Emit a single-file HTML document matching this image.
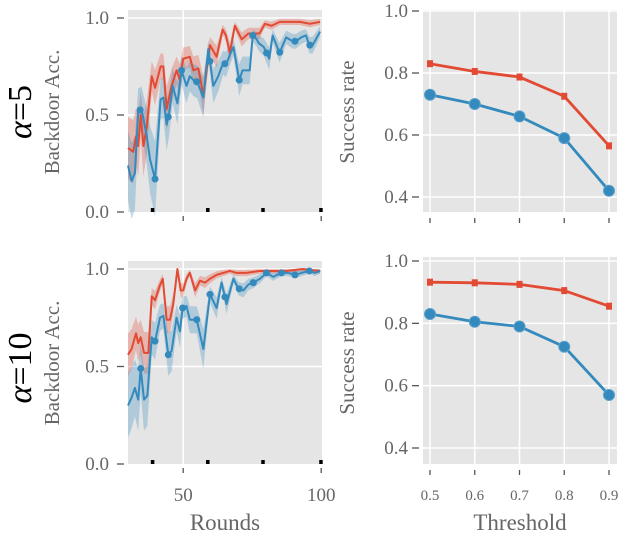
<!DOCTYPE html>
<html><head><meta charset="utf-8"><style>
body{margin:0;background:#fff}
svg{display:block}
text{font-family:"Liberation Serif",serif}
</style></head><body>
<svg id="c" width="622" height="534"></svg>
<script>
// Round-based series (left panels)
const rTopRed=[30,31.9,32.9,33.7,34.6,35.6,36.8,38.6,39.8,41.8,42.8,44,45.8,47.6,48.8,50,52.4,53.7,55.5,57.3,59.7,62.1,64.3,65.5,66.9,68.7,71.2,73.6,75.4,77.6,79.6,82,85,88.7,92.3,95.9,99.6];
const vTopRed=[0.33,0.31,0.39,0.34,0.5,0.34,0.44,0.70,0.64,0.75,0.75,0.53,0.65,0.73,0.68,0.79,0.80,0.73,0.74,0.60,0.86,0.80,0.94,0.91,0.82,0.96,0.89,0.92,0.92,0.92,0.97,0.96,0.98,0.98,0.98,0.97,0.98];
const rTopBlue=[30,31.3,32.5,33.7,34.9,36.8,38,39.8,41.8,42.8,44,44.9,46.2,47.9,49.4,51.2,52.4,53.7,55.1,57.3,59.1,60.9,62.7,64.5,65.5,66.9,68.2,70.3,71.5,72.9,74.1,75.2,76.6,77.4,79.2,81.2,82.4,84.9,87.3,89.7,90.9,92.7,94.5,95.7,96.9,99.6];
const vTopBlue=[0.24,0.16,0.20,0.52,0.53,0.39,0.27,0.17,0.58,0.59,0.45,0.51,0.65,0.56,0.73,0.65,0.70,0.68,0.67,0.59,0.84,0.65,0.70,0.77,0.76,0.81,0.85,0.68,0.73,0.73,0.73,0.91,0.89,0.87,0.85,0.79,0.91,0.82,0.90,0.88,0.88,0.90,0.91,0.86,0.86,0.93];
const mTopBlue=[34.4,39.8,44.6,49.4,54.9,59.7,65.1,70.3,75.2,80.2,85,90.5,95.9];
const rBotRed=[30,31.3,32.9,33.7,34.6,35.8,37.4,38.6,39.8,41.4,42.6,44,45.2,46.4,47.9,49.1,50,51.2,52.4,54.3,56.1,57.9,59.7,62.1,64.5,66.9,69.3,72.9,77.6,81.2,87.3,93.3,99.6];
const vBotRed=[0.56,0.59,0.67,0.62,0.65,0.57,0.57,0.86,0.84,0.91,0.95,0.74,0.74,0.82,1.0,0.89,0.89,0.95,0.98,0.89,0.94,0.93,0.95,0.97,0.98,0.99,0.98,0.98,0.99,0.99,0.99,1.0,0.99];
const rBotBlue=[30,31.3,32.5,33.7,34.6,35.8,37,38.6,39.8,41.6,42.8,44.6,45.8,47.6,48.8,49.8,51.2,52.4,54.9,57.3,59.7,62.1,63.9,65.7,68.2,70,71.8,73.6,75.4,77.8,80.2,82.6,85.6,88,90.5,92.9,95.7,97.7,99.6];
const vBotBlue=[0.30,0.34,0.39,0.33,0.49,0.33,0.35,0.65,0.63,0.75,0.76,0.56,0.58,0.75,0.68,0.80,0.81,0.74,0.74,0.59,0.87,0.80,0.93,0.82,0.95,0.90,0.89,0.92,0.93,0.95,0.98,0.96,0.98,0.98,0.97,0.98,0.99,0.98,0.99];
const mBotBlue=[34.6,39.8,44.6,49.8,54.9,59.7,65.1,70.3,75.4,80.2,85.6,90.5,95.7];
// Threshold series (right panels)
const thresholds=[0.5,0.6,0.7,0.8,0.9];
const sTopRed=[0.83,0.805,0.787,0.725,0.565];
const sTopBlue=[0.73,0.70,0.66,0.59,0.42];
const sBotRed=[0.932,0.93,0.925,0.905,0.855];
const sBotBlue=[0.83,0.805,0.79,0.725,0.57];
const yTicksL=["0.0","0.5","1.0"], yTicksR=["0.4","0.6","0.8","1.0"], xTicksL=["50","100"], xTicksR=["0.5","0.6","0.7","0.8","0.9"];

const RED="#E24A33",BLUE="#348ABD",NS="http://www.w3.org/2000/svg";
const svg=document.getElementById('c');
function el(t,a,p){const e=document.createElementNS(NS,t);for(const k in a)e.setAttribute(k,a[k]);(p||svg).appendChild(e);return e;}
function txt(s,a,p){const e=el('text',a,p);e.textContent=s;return e;}

function leftPanel(top,bot,y1,rR,vR,rB,vB,mB,name,showX){
  const g=el('g',{});
  
  
  const X=r=>128+(r-30)*2.76, Y=v=>bot-(v*(bot-y1));
  el('rect',{x:128,y:top,width:194,height:bot-top,fill:'#E5E5E5'},g);
  el('line',{x1:X(50),x2:X(50),y1:top,y2:bot,stroke:'#fff','stroke-width':1.5},g);
  [0.5,1].forEach(v=>el('line',{x1:128,x2:322,y1:Y(v),y2:Y(v),stroke:'#fff','stroke-width':1.5},g));
  [[rR,vR,RED],[rB,vB,BLUE]].forEach(([rs,vs,c],si)=>{
    let up=[],dn=[];
    rs.forEach((r,i)=>{const e=0.22*(1-vs[i])+0.012;up.push(X(r)+','+Y(Math.min(1.0,vs[i]+e)));dn.unshift(X(r)+','+Y(vs[i]-e));});
    const b=el('polygon',{points:up.concat(dn).join(' '),fill:c,opacity:0.3},g);
    
    
  });
  [[rR,vR,RED],[rB,vB,BLUE]].forEach(([rs,vs,c],si)=>{
    const l=el('polyline',{points:rs.map((r,i)=>X(r)+','+Y(vs[i])).join(' '),fill:'none',stroke:c,'stroke-width':2,'stroke-linejoin':'round'},g);
    
    
  });
  mB.forEach(m=>{let i=0;while(i<rB.length-1&&rB[i+1]<m)i++;const t=(m-rB[i])/((rB[i+1]-rB[i])||1);const v=vB[i]+(vB[Math.min(i+1,vB.length-1)]-vB[i])*Math.max(0,Math.min(1,t));
    const c=el('circle',{cx:X(m),cy:Y(v),r:3.5,fill:BLUE},g);
    
    });
  [39,59,79,100].forEach(r=>el('rect',{x:X(r)-2,y:bot-4,width:3.5,height:4,fill:'#000'},g));
  yTicksL.forEach(s=>{const v=parseFloat(s);el('line',{x1:117,x2:124,y1:Y(v),y2:Y(v),stroke:'#555','stroke-width':1.3},g);
    const t=txt(s,{x:109,y:Y(v)+6,'text-anchor':'end','font-size':19,fill:'#666'},g);
    });
  xTicksL.forEach(s=>{const x=X(parseFloat(s));el('line',{x1:x,x2:x,y1:bot+4,y2:bot+9,stroke:'#555','stroke-width':1.3},g);
    if(showX){const t=txt(s,{x:x,y:bot+37,'text-anchor':'middle','font-size':19,fill:'#666'},g);
    }});
}
function rightPanel(top,bot,y1,y4,sR,sB,name,showX){
  const g=el('g',{});
  
  
  const X=t=>430+(t-0.5)*447.5, Y=v=>y4+(v-0.4)/0.6*(y1-y4);
  el('rect',{x:423,y:top,width:194,height:bot-top,fill:'#E5E5E5'},g);
  thresholds.forEach(t=>el('line',{x1:X(t),x2:X(t),y1:top,y2:bot,stroke:'#fff','stroke-width':1.5},g));
  yTicksR.forEach(s=>{const v=parseFloat(s);el('line',{x1:423,x2:617,y1:Y(v),y2:Y(v),stroke:'#fff','stroke-width':1.5},g);
    el('line',{x1:412,x2:419,y1:Y(v),y2:Y(v),stroke:'#555','stroke-width':1.3},g);
    const t=txt(s,{x:408,y:Y(v)+6,'text-anchor':'end','font-size':19,fill:'#666'},g);
    });
  [[sR,RED,'red'],[sB,BLUE,'blue']].forEach(([vs,c,n])=>{
    const l=el('polyline',{points:thresholds.map((t,i)=>X(t)+','+Y(vs[i])).join(' '),fill:'none',stroke:c,'stroke-width':2.8},g);
    
    thresholds.forEach((t,i)=>{
      if(n==='blue'){const m=el('circle',{cx:X(t),cy:Y(vs[i]),r:5.5,fill:c,stroke:'#5aa0cc','stroke-width':1},g);
        }
      else{const m=el('rect',{x:X(t)-3,y:Y(vs[i])-3.5,width:6,height:7,fill:c},g);
        }
    });
  });
  thresholds.forEach((t,i)=>{const x=X(t);el('line',{x1:x,x2:x,y1:bot+6,y2:bot+11,stroke:'#555','stroke-width':1.3},g);
    if(showX){const tt=txt(xTicksR[i],{x:x,y:bot+36,'text-anchor':'middle','font-size':15,fill:'#666'},g);
    }});
}
leftPanel(10,212,18,rTopRed,vTopRed,rTopBlue,vTopBlue,mTopBlue,'backdoor-acc-alpha5',false);
leftPanel(261,464,269,rBotRed,vBotRed,rBotBlue,vBotBlue,mBotBlue,'backdoor-acc-alpha10',true);
rightPanel(10,212,11,197,sTopRed,sTopBlue,'success-rate-alpha5',false);
rightPanel(257,464,261,448,sBotRed,sBotBlue,'success-rate-alpha10',true);

function rot(parts,x,y,fs,col,name){const t=el('text',{x:x,y:y,'text-anchor':'middle','font-size':fs,fill:col,transform:`rotate(-90 ${x} ${y})`});
  parts.forEach(([s,st])=>{const sp=el('tspan',{'font-style':st||'normal'},t);sp.textContent=s;});
  }
rot([['α','italic'],['=5']],31,112,34,'#000','alpha5-label');
rot([['α','italic'],['=10']],31,368,34,'#000','alpha10-label');
rot([['Backdoor Acc.']],59,112,21,'#666','y-axis-title-top-left');
rot([['Backdoor Acc.']],59,363,21,'#666','y-axis-title-bottom-left');
rot([['Success rate']],354,112,21,'#666','y-axis-title-top-right');
rot([['Success rate']],354,363,21,'#666','y-axis-title-bottom-right');
let t=txt('Rounds',{x:225,y:530,'text-anchor':'middle','font-size':23,fill:'#666'});

t=txt('Threshold',{x:520,y:530,'text-anchor':'middle','font-size':23,fill:'#666'});

</script>
</body></html>
